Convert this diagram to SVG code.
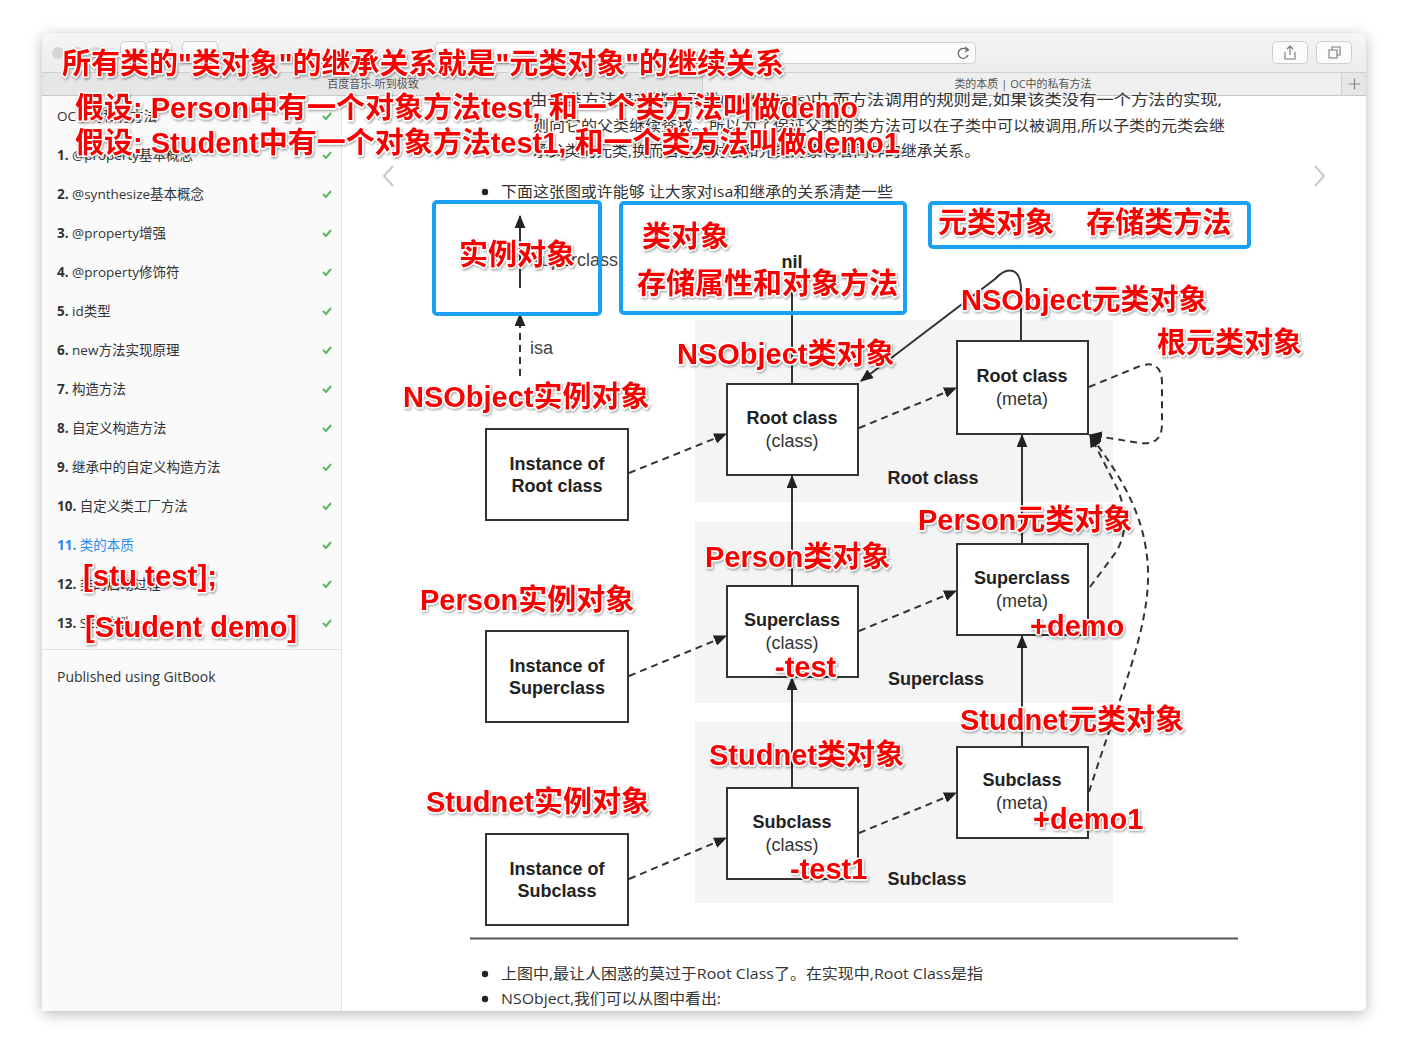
<svg xmlns="http://www.w3.org/2000/svg" width="1408" height="1061" viewBox="0 0 1408 1061">
<defs>
<filter id="winsh" x="-5%" y="-5%" width="110%" height="110%"><feDropShadow dx="0" dy="3" stdDeviation="7" flood-color="#000" flood-opacity="0.28"/></filter>
<filter id="tsh" x="-10%" y="-40%" width="120%" height="180%"><feDropShadow dx="1" dy="1.5" stdDeviation="1.2" flood-color="#000" flood-opacity="0.35"/></filter>
<marker id="ah" viewBox="0 0 12 10" refX="11" refY="5" markerWidth="13" markerHeight="11" markerUnits="userSpaceOnUse" orient="auto"><path d="M0,0 L12,5 L0,10 z" fill="#222"/></marker>
<linearGradient id="tb" x1="0" y1="0" x2="0" y2="1"><stop offset="0" stop-color="#f5f5f5"/><stop offset="1" stop-color="#ececec"/></linearGradient>
</defs>
<style>
.side{font-family:"Open Sans","Noto Sans CJK SC",sans-serif;font-size:13.5px;fill:#333}
.num{font-weight:bold}
.body{font-family:"Open Sans","Noto Sans CJK SC",sans-serif;font-size:15px;fill:#333}
.tab{font-family:"Open Sans","Noto Sans CJK SC",sans-serif;font-size:11px;fill:#555;text-anchor:middle}
.bx{fill:#fff;stroke:#333;stroke-width:2}
.bt{font-family:"Liberation Sans",Arial,sans-serif;font-size:18px;font-weight:bold;fill:#222;text-anchor:middle}
.br{font-family:"Liberation Sans",Arial,sans-serif;font-size:18px;fill:#333;text-anchor:middle}
.lg{font-family:"Liberation Sans",Arial,sans-serif;font-size:18px;fill:#444}
.solid{stroke:#333;stroke-width:2;fill:none}
.dash{stroke:#333;stroke-width:2;fill:none;stroke-dasharray:7 5}
.band{fill:#f4f4f4}
.ann{font-family:"Liberation Sans","Noto Sans CJK SC",sans-serif;font-size:29px;font-weight:bold;fill:#f80000;stroke:#fff;stroke-width:3;paint-order:stroke;stroke-linejoin:round}
.blue{fill:none;stroke:#1aa0f2;stroke-width:4}
.chk{fill:none;stroke:#5cb85c;stroke-width:2}
.btn{fill:#fbfbfb;stroke:#cfcfcf;stroke-width:1}
</style>

<rect width="1408" height="1061" fill="#fff"/>

<!-- window -->
<g id="window">
<rect x="42" y="33" width="1324" height="978" rx="6" fill="#fff" filter="url(#winsh)"/>
<path d="M48,33 H1360 A6,6 0 0 1 1366,39 V72 H42 V39 A6,6 0 0 1 48,33 z" fill="url(#tb)"/>
<rect x="42" y="72" width="1324" height="24" fill="#e6e6e6"/>
<rect x="702" y="72" width="639" height="24" fill="#efefef"/>
<line x1="42" y1="72.5" x2="1366" y2="72.5" stroke="#cfcfcf"/>
<line x1="42" y1="95.5" x2="1366" y2="95.5" stroke="#c9c9c9"/>
<line x1="702.5" y1="72" x2="702.5" y2="96" stroke="#cfcfcf"/>
<line x1="1341.5" y1="72" x2="1341.5" y2="96" stroke="#cfcfcf"/>
<path d="M1349,84 H1360 M1354.5,78.5 V89.5" stroke="#888" stroke-width="1.2"/>
<text class="tab" x="373" y="88">百度音乐-听到极致</text>
<text class="tab" x="1023" y="88">类的本质 | OC中的私有方法</text>
<circle cx="58" cy="53" r="6" fill="#d4d4d4"/>
<circle cx="77" cy="53" r="6" fill="#d4d4d4"/>
<circle cx="96" cy="53" r="6" fill="#d4d4d4"/>
<rect class="btn" x="120.5" y="41.5" width="25" height="22" rx="4"/>
<rect class="btn" x="146.5" y="41.5" width="25" height="22" rx="4"/>
<rect class="btn" x="182.5" y="41.5" width="35" height="22" rx="4"/>
<rect class="btn" x="435.5" y="42.5" width="540" height="21" rx="4" fill="#fff"/>
<path d="M967,50 A5,5 0 1 0 968,55" fill="none" stroke="#666" stroke-width="1.3"/>
<path d="M965,47 L968.5,50 L965,52" fill="none" stroke="#666" stroke-width="1.3"/>
<rect class="btn" x="1272.5" y="41.5" width="35" height="22" rx="4"/>
<rect class="btn" x="1316.5" y="41.5" width="35" height="22" rx="4"/>
<path d="M1285,52 V59 H1295 V52 M1290,46 V55 M1287,49 L1290,46 L1293,49" fill="none" stroke="#777" stroke-width="1.1"/>
<path d="M1329,50 H1337 V58 H1329 z M1332,50 V47 H1340 V55 H1337" fill="none" stroke="#777" stroke-width="1.1"/>
</g>

<!-- sidebar -->
<g id="sidebar">
<rect x="42" y="96" width="299" height="915" fill="#fafafa"/>
<line x1="341.5" y1="96" x2="341.5" y2="1011" stroke="#e3e3e3"/>
<text class="side" x="57" y="121">OC中的私有方法</text>
<text class="side" x="57" y="160"><tspan class="num">1.</tspan> @property基本概念</text>
<text class="side" x="57" y="199"><tspan class="num">2.</tspan> @synthesize基本概念</text>
<text class="side" x="57" y="238"><tspan class="num">3.</tspan> @property增强</text>
<text class="side" x="57" y="277"><tspan class="num">4.</tspan> @property修饰符</text>
<text class="side" x="57" y="316"><tspan class="num">5.</tspan> id类型</text>
<text class="side" x="57" y="355"><tspan class="num">6.</tspan> new方法实现原理</text>
<text class="side" x="57" y="394"><tspan class="num">7.</tspan> 构造方法</text>
<text class="side" x="57" y="433"><tspan class="num">8.</tspan> 自定义构造方法</text>
<text class="side" x="57" y="472"><tspan class="num">9.</tspan> 继承中的自定义构造方法</text>
<text class="side" x="57" y="511"><tspan class="num">10.</tspan> 自定义类工厂方法</text>
<text class="side" x="57" y="550" style="fill:#1e8cf0"><tspan class="num">11.</tspan> 类的本质</text>
<text class="side" x="57" y="589"><tspan class="num">12.</tspan> 类的启动过程</text>
<text class="side" x="57" y="628"><tspan class="num">13.</tspan> SEL类型</text>
<path class="chk" d="M323,116 l3,3 l5,-6 M323,155 l3,3 l5,-6 M323,194 l3,3 l5,-6 M323,233 l3,3 l5,-6 M323,272 l3,3 l5,-6 M323,311 l3,3 l5,-6 M323,350 l3,3 l5,-6 M323,389 l3,3 l5,-6 M323,428 l3,3 l5,-6 M323,467 l3,3 l5,-6 M323,506 l3,3 l5,-6 M323,545 l3,3 l5,-6 M323,584 l3,3 l5,-6 M323,623 l3,3 l5,-6"/>
<line x1="42" y1="649.5" x2="341" y2="649.5" stroke="#e3e3e3"/>
<text class="side" x="57" y="682" style="font-size:14px">Published using GitBook</text>
</g>

<!-- page content -->
<g id="content">
<text class="body" x="530" y="105" textLength="692" lengthAdjust="spacingAndGlyphs">由于类方法是存储在元类(metaclass)中,而方法调用的规则是,如果该类没有一个方法的实现,</text>
<text class="body" x="533" y="131" textLength="692" lengthAdjust="spacingAndGlyphs">则向它的父类继续查找。所以为了保证父类的类方法可以在子类中可以被调用,所以子类的元类会继</text>
<text class="body" x="533" y="156" textLength="447" lengthAdjust="spacingAndGlyphs">承父类的元类,换而言之类对象和元类对象有着同样的继承关系。</text>
<path d="M393,166 L384,176 L393,186" fill="none" stroke="#c8c8c8" stroke-width="2"/>
<path d="M1315,166 L1324,176 L1315,186" fill="none" stroke="#c8c8c8" stroke-width="2"/>
<circle cx="485" cy="192" r="3.2" fill="#222"/>
<text class="body" x="501" y="197" textLength="392" lengthAdjust="spacingAndGlyphs">下面这张图或许能够 让大家对isa和继承的关系清楚一些</text>
<line x1="470" y1="938.5" x2="1238" y2="938.5" stroke="#555" stroke-width="2"/>
<circle cx="485" cy="974" r="3.2" fill="#222"/>
<text class="body" x="501" y="979" textLength="482" lengthAdjust="spacingAndGlyphs">上图中,最让人困惑的莫过于Root Class了。在实现中,Root Class是指</text>
<circle cx="485" cy="999" r="3.2" fill="#222"/>
<text class="body" x="501" y="1004" textLength="220" lengthAdjust="spacingAndGlyphs">NSObject,我们可以从图中看出:</text>
</g>

<!-- diagram background bands -->
<g id="bands">
<rect class="band" x="695" y="320" width="418" height="182"/>
<rect class="band" x="695" y="522" width="418" height="181"/>
<rect class="band" x="695" y="722" width="418" height="181"/>
</g>

<!-- connectors -->
<g id="connectors">
<line class="solid" x1="520" y1="288" x2="520" y2="216" marker-end="url(#ah)"/>
<line class="dash" x1="520" y1="376" x2="520" y2="314" marker-end="url(#ah)"/>
<line class="solid" x1="792" y1="273" x2="792" y2="384"/>
<line class="dash" x1="629" y1="473" x2="726" y2="434" marker-end="url(#ah)"/>
<line class="dash" x1="629" y1="676" x2="726" y2="636" marker-end="url(#ah)"/>
<line class="dash" x1="629" y1="879" x2="726" y2="838" marker-end="url(#ah)"/>
<line class="dash" x1="859" y1="428" x2="956" y2="388" marker-end="url(#ah)"/>
<line class="dash" x1="859" y1="631" x2="956" y2="591" marker-end="url(#ah)"/>
<line class="dash" x1="859" y1="833" x2="956" y2="793" marker-end="url(#ah)"/>
<line class="solid" x1="792" y1="586" x2="792" y2="476" marker-end="url(#ah)"/>
<line class="solid" x1="792" y1="788" x2="792" y2="678" marker-end="url(#ah)"/>
<line class="solid" x1="1022" y1="544" x2="1022" y2="435" marker-end="url(#ah)"/>
<line class="solid" x1="1022" y1="747" x2="1022" y2="636" marker-end="url(#ah)"/>
<path class="solid" d="M1021,341 L1021,290 C1021,268 1008,265 995,279 L861,381" marker-end="url(#ah)"/>
<path class="dash" d="M1089,387 L1140,366 Q1161,359 1162,382 L1162,424 Q1162,446 1140,443 L1090,435" marker-end="url(#ah)"/>
<path class="dash" d="M1090,587 L1116,552 Q1132,526 1118,490 L1090,435" marker-end="url(#ah)"/>
<path class="dash" d="M1089,792 C1118,700 1150,630 1148,570 C1146,515 1120,475 1090,435" marker-end="url(#ah)"/>
</g>

<!-- nodes -->
<g id="legend">
<text class="lg" x="532" y="266">superclass</text>
<text class="lg" x="530" y="354">isa</text>
<text class="bt" x="792" y="268">nil</text>
</g>
<g id="inst-root"><rect class="bx" x="486" y="429" width="142" height="91"/><text class="bt" x="557" y="470">Instance of</text><text class="bt" x="557" y="492">Root class</text></g>
<g id="inst-super"><rect class="bx" x="486" y="631" width="142" height="91"/><text class="bt" x="557" y="672">Instance of</text><text class="bt" x="557" y="694">Superclass</text></g>
<g id="inst-sub"><rect class="bx" x="486" y="834" width="142" height="91"/><text class="bt" x="557" y="875">Instance of</text><text class="bt" x="557" y="897">Subclass</text></g>
<g id="root-class"><rect class="bx" x="727" y="384" width="131" height="91"/><text class="bt" x="792" y="424">Root class</text><text class="br" x="792" y="447">(class)</text></g>
<g id="super-class"><rect class="bx" x="727" y="586" width="131" height="91"/><text class="bt" x="792" y="626">Superclass</text><text class="br" x="792" y="649">(class)</text></g>
<g id="sub-class"><rect class="bx" x="727" y="788" width="131" height="91"/><text class="bt" x="792" y="828">Subclass</text><text class="br" x="792" y="851">(class)</text></g>
<g id="root-meta"><rect class="bx" x="957" y="341" width="131" height="93"/><text class="bt" x="1022" y="382">Root class</text><text class="br" x="1022" y="405">(meta)</text></g>
<g id="super-meta"><rect class="bx" x="957" y="544" width="131" height="91"/><text class="bt" x="1022" y="584">Superclass</text><text class="br" x="1022" y="607">(meta)</text></g>
<g id="sub-meta"><rect class="bx" x="957" y="747" width="131" height="91"/><text class="bt" x="1022" y="786">Subclass</text><text class="br" x="1022" y="809">(meta)</text></g>
<g id="row-labels">
<text class="bt" x="933" y="484">Root class</text>
<text class="bt" x="936" y="685">Superclass</text>
<text class="bt" x="927" y="885">Subclass</text>
</g>

<!-- annotations -->
<g id="blue-boxes">
<rect class="blue" x="434" y="202" width="166" height="112" rx="3"/>
<rect class="blue" x="621" y="203" width="284" height="110" rx="3"/>
<rect class="blue" x="930" y="203" width="319" height="44" rx="3"/>
</g>
<g id="annotations" filter="url(#tsh)">
<text class="ann" x="62" y="74">所有类的"类对象"的继承关系就是"元类对象"的继续关系</text>
<text class="ann" x="75" y="118">假设: Person中有一个对象方法test, 和一个类方法叫做demo</text>
<text class="ann" x="75" y="153">假设: Student中有一个对象方法test1, 和一个类方法叫做demo1</text>
<text class="ann" x="459" y="265">实例对象</text>
<text class="ann" x="642" y="247">类对象</text>
<text class="ann" x="637" y="294">存储属性和对象方法</text>
<text class="ann" x="938" y="233" xml:space="preserve">元类对象    存储类方法</text>
<text class="ann" x="961" y="310">NSObject元类对象</text>
<text class="ann" x="1157" y="353">根元类对象</text>
<text class="ann" x="677" y="364">NSObject类对象</text>
<text class="ann" x="403" y="407">NSObject实例对象</text>
<text class="ann" x="918" y="530">Person元类对象</text>
<text class="ann" x="705" y="567">Person类对象</text>
<text class="ann" x="420" y="610">Person实例对象</text>
<text class="ann" x="1030" y="636">+demo</text>
<text class="ann" x="775" y="677">-test</text>
<text class="ann" x="960" y="730">Studnet元类对象</text>
<text class="ann" x="709" y="765">Studnet类对象</text>
<text class="ann" x="426" y="812">Studnet实例对象</text>
<text class="ann" x="1033" y="829">+demo1</text>
<text class="ann" x="790" y="879">-test1</text>
<text class="ann" x="83" y="586" textLength="134" lengthAdjust="spacingAndGlyphs">[stu test];</text>
<text class="ann" x="85" y="637" textLength="212" lengthAdjust="spacingAndGlyphs">[Student demo]</text>
</g>
</svg>
